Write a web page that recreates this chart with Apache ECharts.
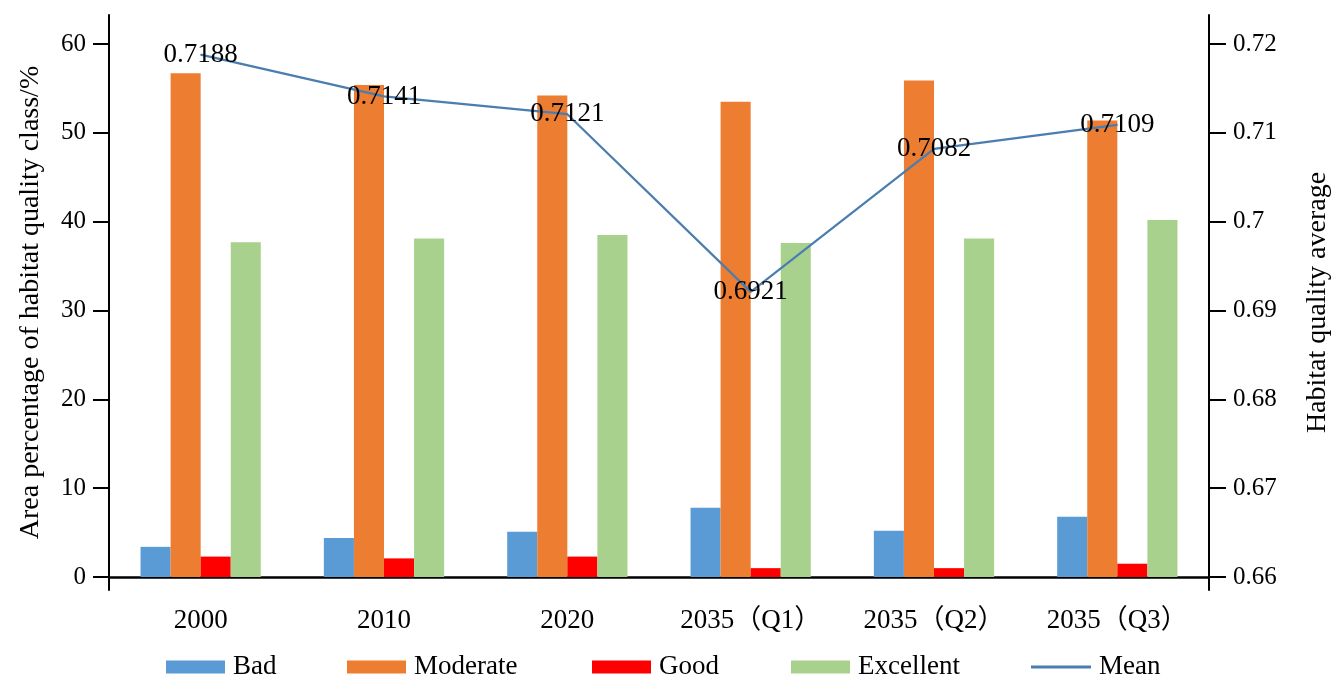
<!DOCTYPE html>
<html>
<head>
<meta charset="utf-8">
<script src="https://cdn.jsdelivr.net/npm/echarts@6/dist/echarts.min.js"></script>
<style>
html,body{margin:0;padding:0;background:#fff;overflow:hidden;}
#chart{width:1331px;height:675px;}
</style>
</head>
<body>
<div id="chart"></div>
<script>
const categories = ['2000', '2010', '2020', '2035（Q1）', '2035（Q2）', '2035（Q3）'];
const bad = [3.4, 4.4, 5.1, 7.8, 5.2, 6.8];
const moderate = [56.7, 55.4, 54.2, 53.5, 55.9, 51.4];
const good = [2.3, 2.1, 2.3, 1.0, 1.0, 1.5];
const excellent = [37.7, 38.1, 38.5, 37.6, 38.1, 40.2];
const mean = [0.7188, 0.7141, 0.7121, 0.6921, 0.7082, 0.7109];
const leftTicks = [0, 10, 20, 30, 40, 50, 60];
const rightTicks = [0.66, 0.67, 0.68, 0.69, 0.7, 0.71, 0.72];

const FONT = '"Liberation Serif", "Times New Roman", "Noto Sans CJK SC", serif';
const chart = echarts.init(document.getElementById('chart'));

function legendItem(name, left, opts) {
  return Object.assign({
    data: [name], left: left, top: 648, orient: 'horizontal',
    itemWidth: 59, itemHeight: 13, icon: 'rect', itemGap: 0,
    textStyle: {fontFamily: FONT, fontSize: 27, color: '#000', lineHeight: 28, padding: [0, 0, 0, 3]}
  }, opts || {});
}

chart.setOption({
  animation: false,
  backgroundColor: '#fff',
  textStyle: {fontFamily: FONT},
  grid: {left: 109, right: 122, top: 15, bottom: 85, containLabel: false, outerBoundsMode: 'none'},
  legend: [
    legendItem('Bad', 161),
    legendItem('Moderate', 342),
    legendItem('Good', 587),
    legendItem('Excellent', 786),
    legendItem('Mean', 1026, {itemWidth: 60, itemHeight: 3, icon: 'rect'})
  ],
  xAxis: {
    type: 'category', data: categories,
    axisLine: {onZero: true, lineStyle: {color: '#000', width: 2.5}},
    axisTick: {show: false},
    axisLabel: {fontFamily: FONT, fontSize: 27, color: '#000', margin: 17, interval: 0}
  },
  yAxis: [
    {
      type: 'value', min: -1.46, max: 63.27,
      name: 'Area percentage of habitat quality class/%',
      nameLocation: 'middle', nameRotate: 90, nameGap: 64,
      nameTextStyle: {fontFamily: FONT, fontSize: 28, color: '#000'},
      axisLine: {show: true, lineStyle: {color: '#000', width: 2}},
      axisTick: {show: true, length: 16, lineStyle: {color: '#000', width: 2}, customValues: leftTicks},
      axisLabel: {fontFamily: FONT, fontSize: 25, color: '#000', margin: 23, customValues: leftTicks},
      splitLine: {show: false}
    },
    {
      type: 'value', min: 0.658536, max: 0.723266,
      name: 'Habitat quality average',
      nameLocation: 'middle', nameRotate: 90, nameGap: 95,
      nameTextStyle: {fontFamily: FONT, fontSize: 28, color: '#000'},
      axisLine: {show: true, lineStyle: {color: '#000', width: 2}},
      axisTick: {show: true, length: 17, lineStyle: {color: '#000', width: 2}, customValues: rightTicks},
      axisLabel: {fontFamily: FONT, fontSize: 25, color: '#000', margin: 24, customValues: rightTicks,
        formatter: v => String(parseFloat(v.toFixed(2)))},
      splitLine: {show: false}
    }
  ],
  series: [
    {name: 'Bad', type: 'bar', data: bad, barWidth: '16.4%', barGap: '0%', itemStyle: {color: '#5b9bd5'}},
    {name: 'Moderate', type: 'bar', data: moderate, barWidth: '16.4%', barGap: '0%', itemStyle: {color: '#ed7d31'}},
    {name: 'Good', type: 'bar', data: good, barWidth: '16.4%', barGap: '0%', itemStyle: {color: '#ff0000'}},
    {name: 'Excellent', type: 'bar', data: excellent, barWidth: '16.4%', barGap: '0%', itemStyle: {color: '#a9d18e'}},
    {
      name: 'Mean', type: 'line', yAxisIndex: 1, data: mean,
      symbol: 'circle', symbolSize: 1, showSymbol: true,
      lineStyle: {color: '#4a7db0', width: 2.2},
      itemStyle: {color: '#4a7db0'},
      label: {show: true, position: 'inside', fontFamily: FONT, fontSize: 27, color: '#000',
        formatter: p => p.value.toFixed(4)},
      z: 5
    }
  ]
});
</script>
</body>
</html>
